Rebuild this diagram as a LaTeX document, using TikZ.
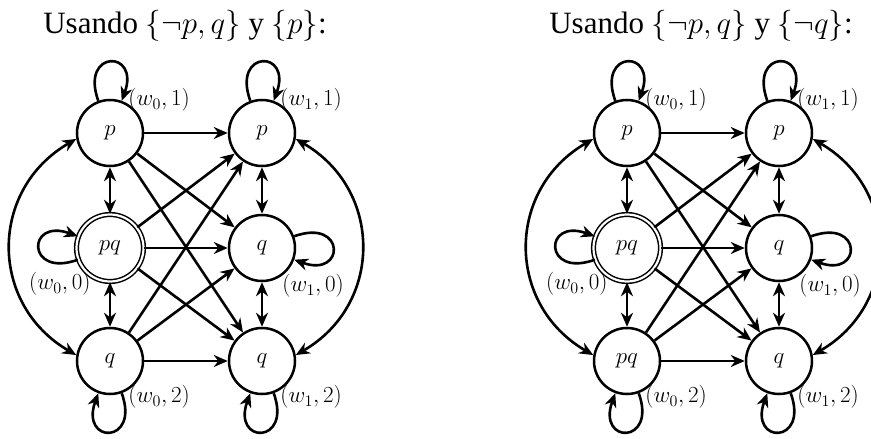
\documentclass[tikz,border=0pt]{standalone}
\usepackage{fix-cm}
\usepackage[no-math]{fontspec}
\setmainfont{Liberation Serif}
\usetikzlibrary{arrows.meta}
\tikzset{
  st/.style={circle, draw, line width=2.5pt, minimum size=66pt, inner sep=0pt,
    font=\fontsize{23}{27}\selectfont},
  acc/.style={st, double, line width=1.5pt, double distance=2.2pt, minimum size=67pt},
  lbl/.style={inner sep=0pt, font=\fontsize{23}{27}\selectfont},
  ttl/.style={inner sep=0pt, anchor=base, font=\fontsize{31}{36}\selectfont},
  tip/.tip={Stealth[length=14pt, width=12pt, inset=4.5pt]},
  edge/.style={line width=2.6pt, -tip},
  dedge/.style={line width=2.6pt, tip-tip},
}
\newcommand\drawdiag[3]{%
  \begin{scope}[xshift=#2]
    \node[st]  (#1a0) at (110,-133) {$p$};
    \node[st]  (#1a1) at (262,-133) {$p$};
    \node[acc] (#1b0) at (110,-248) {$pq$};
    \node[st]  (#1b1) at (262,-248) {$q$};
    \node[st]  (#1c0) at (110,-361) {$#3$};
    \node[st]  (#1c1) at (262,-361) {$q$};
    \node[lbl, anchor=south west] (#1la0) at ([xshift=-6pt,yshift=-3pt]#1a0.north east) {$(w_0,1)$};
    \node[lbl, anchor=south west] (#1la1) at ([xshift=-6pt,yshift=-3pt]#1a1.north east) {$(w_1,1)$};
    \node[lbl, anchor=north east] (#1lb0) at ([xshift=5pt]#1b0.south west) {$(w_0,0)$};
    \node[lbl, anchor=north west] (#1lb1) at ([xshift=-4pt,yshift=-2pt]#1b1.south east) {$(w_1,0)$};
    \node[lbl, anchor=north west] (#1lc0) at ([xshift=-6pt]#1c0.south east) {$(w_0,2)$};
    \node[lbl, anchor=north west] (#1lc1) at ([xshift=-6pt]#1c1.south east) {$(w_1,2)$};
    % loops
    \draw[edge] (#1a0.110) to[out=110, in=70, looseness=6] (#1a0.70);
    \draw[edge] (#1a1.110) to[out=110, in=70, looseness=6] (#1a1.70);
    \draw[edge] (#1b0.200) to[out=200, in=160, looseness=6] (#1b0.160);
    \draw[edge] (#1b1.20) to[out=20, in=-20, looseness=6] (#1b1.-20);
    \draw[edge] (#1c0.-70) to[out=-70, in=-110, looseness=6] (#1c0.-110);
    \draw[edge] (#1c1.-70) to[out=-70, in=-110, looseness=6] (#1c1.-110);
    % horizontal
    \draw[edge] (#1a0) -- (#1a1);
    \draw[edge] (#1b0) -- (#1b1);
    \draw[edge] (#1c0) -- (#1c1);
    % vertical double
    \draw[dedge] (#1a0) -- (#1b0);
    \draw[dedge] (#1b0) -- (#1c0);
    \draw[dedge] (#1a1) -- (#1b1);
    \draw[dedge] (#1b1) -- (#1c1);
    % diagonals
    \draw[edge] (#1a0) -- (#1b1);
    \draw[edge] (#1a0) -- (#1c1);
    \draw[edge] (#1b0) -- (#1a1);
    \draw[edge] (#1b0) -- (#1c1);
    \draw[edge] (#1c0) -- (#1a1);
    \draw[edge] (#1c0) -- (#1b1);
    % outer curves
    \draw[dedge] (#1a0.190) to[out=210, in=150, looseness=1.2] (#1c0.170);
    \draw[dedge] (#1a1.-10) to[out=-30, in=30, looseness=1.2] (#1c1.10);
  \end{scope}}
\begin{document}
\begin{tikzpicture}[x=1pt, y=1pt]
  \useasboundingbox (0,0) rectangle (871,-439);
  \node[ttl] (t1) at (185,-33) {Usando $\{\neg p, q\}$ y $\{p\}$:};
  \node[ttl] (t2) at (701,-33) {Usando $\{\neg p, q\}$ y $\{\neg q\}$:};
  \drawdiag{L}{0pt}{q}
  \drawdiag{R}{517pt}{pq}
\end{tikzpicture}
\end{document}
